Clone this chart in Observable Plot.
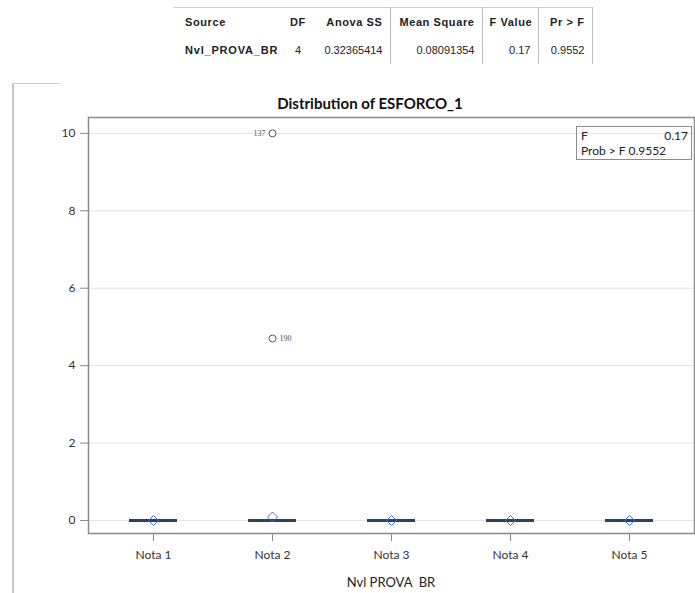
<!DOCTYPE html>
<html>
<head>
<meta charset="utf-8">
<script src="https://cdn.jsdelivr.net/npm/d3@7"></script>
<script src="https://cdn.jsdelivr.net/npm/@observablehq/plot@0.6"></script>
<style>
  html, body { margin: 0; padding: 0; background: #fff; }
  #wrap { position: relative; width: 695px; height: 593px; overflow: hidden; font-family: Lato, "Open Sans", sans-serif; }
  #anova { position: absolute; left: 173px; top: 7px; border-collapse: collapse; font-family: "Liberation Sans", Arial, sans-serif; font-size: 11px; color: #222; border-top: 1px solid #cfcfcf; }
  #anova td { height: 28px; padding: 0 7px; white-space: nowrap; text-align: right; }
  #anova td.src { text-align: left; padding-left: 12px; }
  #anova tr.hd td { font-weight: bold; letter-spacing: 0.6px; }
  #anova tr.rw td.src { font-weight: bold; letter-spacing: 0.8px; }
  #anova td.vl { border-left: 1px solid #bdbdbd; }
  #anova td.vr { border-right: 1px solid #bdbdbd; }
  #outer { position: absolute; left: 12px; top: 83px; width: 46px; height: 520px; border-left: 2px solid #c6c6c6; border-top: 1px solid #d0d0d0; }
  #chart { position: absolute; left: 0; top: 83px; }
  #title { position: absolute; left: 170px; width: 400px; top: 94px; text-align: center; font-weight: bold; font-size: 15px; color: #111; }
  #xlabel { position: absolute; left: 88px; width: 606px; top: 574px; text-align: center; font-size: 13px; color: #222; }
  #inset { position: absolute; left: 576px; top: 126px; width: 116px; height: 34px; border: 1px solid #8c8c8c; font-size: 12px; color: #222; line-height: 15px; padding: 1px 0 0 4px; box-sizing: border-box; }
  #inset div { display: flex; justify-content: space-between; padding-right: 3px; }
</style>
</head>
<body>
<div id="wrap">
  <div id="outer"></div>
  <table id="anova"></table>
  <div id="chart"></div>
  <div id="title"></div>
  <div id="inset"></div>
  <div id="xlabel"></div>
</div>
<script>
// ---- data ----
const categories = ["Nota 1", "Nota 2", "Nota 3", "Nota 4", "Nota 5"];
const boxValues = [0, 0, 0, 0, 0];          // collapsed boxes (Q1 = median = Q3 = 0)
const meanValues = [0, 0.09, 0, 0, 0];
const outlierCategories = ["Nota 2", "Nota 2"];
const outlierValues = [10, 4.7];
const outlierIds = ["137", "190"];
const yTicks = [0, 2, 4, 6, 8, 10];

const tableHeaders = ["Source", "DF", "Anova SS", "Mean Square", "F Value", "Pr > F"];
const tableRow = ["Nvl_PROVA_BR", "4", "0.32365414", "0.08091354", "0.17", "0.9552"];
const fValue = "0.17";
const probF = "0.9552";
const chartTitle = "Distribution of ESFORCO_1";
const xTitle = "Nvl PROVA  BR";

// ---- table ----
const colClass = ["src", "", "", "vl", "vl", "vl vr"];
const colWidth = [110, 25, 82, 92, 56, 54];
const tbl = document.getElementById("anova");
[tableHeaders, tableRow].forEach((row, ri) => {
  const tr = document.createElement("tr");
  tr.className = ri === 0 ? "hd" : "rw";
  row.forEach((t, i) => {
    const td = document.createElement("td");
    td.textContent = t;
    td.className = colClass[i];
    td.style.width = colWidth[i] + "px";
    td.style.boxSizing = "border-box";
    td.style.maxWidth = colWidth[i] + "px";
    tr.appendChild(td);
  });
  tbl.appendChild(tr);
});

document.getElementById("title").textContent = chartTitle;
document.getElementById("xlabel").textContent = xTitle.replace(/ /g, "\u00a0");
document.getElementById("inset").innerHTML =
  `<div><span>F</span><span>${fValue}</span></div><div><span>Prob &gt; F ${probF}</span></div>`;

// ---- chart ----
const boxes = categories.map((c, i) => ({cat: c, v: boxValues[i], mean: meanValues[i]}));
const outliers = outlierValues.map((v, i) => ({cat: outlierCategories[i], v, id: outlierIds[i]}));

const plot = Plot.plot({
  width: 695,
  height: 510,
  marginLeft: 88,
  marginRight: 1,
  marginTop: 34,
  marginBottom: 60,
  style: {fontFamily: "Lato, 'Open Sans', sans-serif", fontSize: "12px", color: "#333", background: "transparent"},
  x: {type: "band", domain: categories, paddingInner: 0.6, paddingOuter: 0.33, label: null},
  y: {domain: [-0.336, 10.41], label: null},
  marks: [
    Plot.gridY(yTicks, {stroke: "#e3e3e3", strokeOpacity: 1}),
    Plot.tickY(boxes, {x: "cat", y: "v", stroke: "#2b3f68", strokeWidth: 3}),
    Plot.dot(boxes, {x: "cat", y: "mean", symbol: "diamond2", r: 4.5, stroke: "#4472c4", strokeWidth: 1, fill: "none"}),
    Plot.dot(outliers, {x: "cat", y: "v", r: 3.5, stroke: "#555", strokeWidth: 1, fill: "white"}),
    Plot.text(outliers.filter(d => d.id === "137"), {x: "cat", y: "v", text: "id", dx: -7, textAnchor: "end", fontSize: 8, fill: "#555", fontFamily: "'Liberation Serif', serif"}),
    Plot.text(outliers.filter(d => d.id === "190"), {x: "cat", y: "v", text: "id", dx: 7, textAnchor: "start", fontSize: 8, fill: "#555", fontFamily: "'Liberation Serif', serif"}),
    Plot.frame({stroke: "#8a8a8a", strokeWidth: 1.5}),
    Plot.axisY({ticks: yTicks, tickSize: 8, tickPadding: 5, stroke: "#888", fontSize: 12, label: null}),
    Plot.axisX({tickSize: 8, tickPadding: 9, stroke: "#888", fontSize: 12, label: null})
  ]
});
document.getElementById("chart").appendChild(plot);
</script>
</body>
</html>
